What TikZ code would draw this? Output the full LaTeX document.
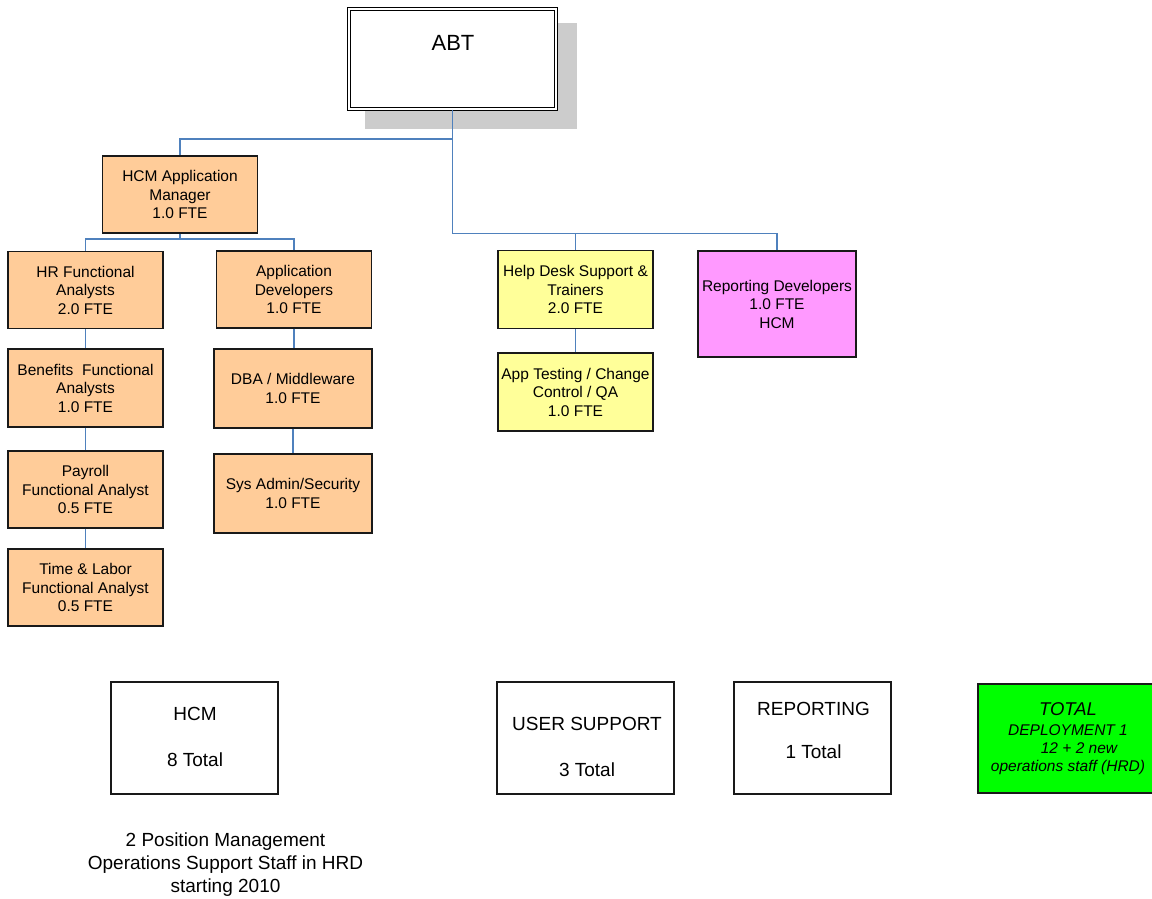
\documentclass[tikz,border=0pt]{standalone}
\usepackage{fontspec}
\setmainfont{Liberation Sans}
\definecolor{linkblue}{HTML}{4F81BD}
\definecolor{staffcol}{HTML}{FFCC99}
\definecolor{supportcol}{HTML}{FFFF99}
\definecolor{reportcol}{HTML}{FF99FF}
\definecolor{totalcol}{HTML}{00FF00}
\definecolor{shadowgray}{HTML}{CCCCCC}
\begin{document}
\begin{tikzpicture}[x=1pt,y=-1pt,
  unit/.style={draw=black!90, line width=1.3pt, align=center, inner sep=1pt,
    font=\fontsize{15.5}{18.5}\selectfont},
  staff/.style={unit, fill=staffcol, minimum width=155pt, minimum height=77pt},
  support/.style={unit, fill=supportcol, minimum width=155pt, minimum height=78pt},
  summary/.style={draw=black!90, line width=1.2pt, fill=white, minimum height=112pt},
  bigtext/.style={align=center, inner sep=0pt, font=\fontsize{19}{23}\selectfont},
  conn/.style={draw=linkblue, line width=1.4pt}]
\useasboundingbox (0,0) rectangle (1152,898);

% top unit with its shadow
\fill[shadowgray] (365,23) rectangle (577,129);
\node[draw=black, fill=white, line width=1pt, double=white, double distance=2pt,
  minimum width=207pt, minimum height=100pt] (abt) at (452.5,59) {};
\node[font=\fontsize{22}{26}\selectfont] (abtname) at (453,43) {ABT};

% HCM branch
\node[staff] (mgr) at (180,194.5) {HCM Application\\Manager\\1.0 FTE};
\node[staff] (hr)  at (85.5,290)  {HR Functional\\Analysts\\2.0 FTE};
\node[staff, minimum height=78pt] (ben) at (85.5,388) {Benefits\ \ Functional\\Analysts\\1.0 FTE};
\node[staff] (pay) at (85.5,489.5) {Payroll\\Functional Analyst\\0.5 FTE};
\node[staff] (tl)  at (85.5,587.5) {Time \& Labor\\Functional Analyst\\0.5 FTE};
\node[staff] (dev) at (294,289.5) {Application\\Developers\\1.0 FTE};
\node[staff, minimum width=158pt, minimum height=79pt] (dba) at (293,388.5) {DBA / Middleware\\1.0 FTE};
\node[staff, minimum width=158pt, minimum height=79pt] (sys) at (293,493.5) {Sys Admin/Security\\1.0 FTE};

% user support and reporting branches
\node[support] (hd)  at (575.5,289.5) {Help Desk Support \&\\Trainers\\2.0 FTE};
\node[support] (qa)  at (575.5,392)   {App Testing / Change\\Control / QA\\1.0 FTE};
\node[unit, fill=reportcol, minimum width=158pt, minimum height=106pt] (rep) at (777,304)
  {Reporting Developers\\1.0 FTE\\HCM};

% connectors
\coordinate (busA) at (452.5,139);
\coordinate (busB) at (452.5,233.5);
\coordinate (busC) at (180,239);
\draw[conn] (abt.south) -- (busB) -| (rep.north);
\draw[conn] (busA) -| (mgr.north);
\draw[conn] (busB) -| (hd.north);
\draw[conn] (mgr.south) -- (busC);
\draw[conn] (hr.north) |- (busC) -| (dev.north);
\draw[conn] (hr.south) -- (ben.north);
\draw[conn] (ben.south) -- (pay.north);
\draw[conn] (pay.south) -- (tl.north);
\draw[conn] (dev.south) -- (dev.south |- dba.north);
\draw[conn] (dba.south) -- (sys.north);
\draw[conn] (hd.south) -- (qa.north);

% totals
\node[summary, minimum width=167pt] (hcmsum) at (194.5,738) {};
\node[bigtext] (hcmsumtext) at (195,736.5) {HCM\\[23pt]8 Total};
\node[summary, minimum width=177pt] (ussum) at (585.5,738) {};
\node[bigtext] (ussumtext) at (587,746.5) {USER SUPPORT\\[23pt]3 Total};
\node[summary, minimum width=157pt] (repsum) at (812.5,738) {};
\node[bigtext] (repsumtext) at (813.5,730) {REPORTING\\[20pt]1 Total};
\node[draw=black!90, line width=1.2pt, fill=totalcol, minimum width=180pt, minimum height=109pt,
  align=center, inner sep=1pt, font=\fontsize{15.5}{18}\selectfont\itshape] (total) at (1068,738.5)
  {{\fontsize{18.5}{22}\selectfont TOTAL}\\[2pt]DEPLOYMENT 1\\\hspace*{22pt}12 + 2 new\\operations staff (HRD)};

\node[bigtext] (hrdnote) at (225.5,865)
  {2 Position Management\\Operations Support Staff in HRD\\starting 2010};
\end{tikzpicture}
\end{document}
